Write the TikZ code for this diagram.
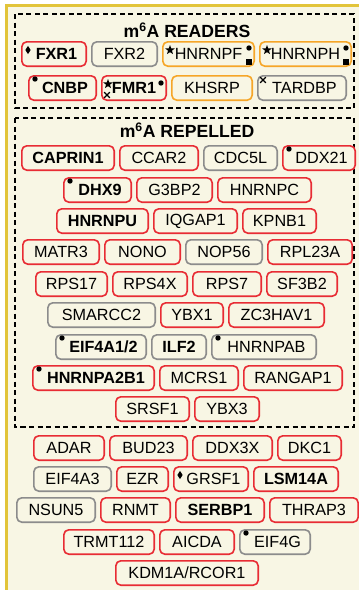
\documentclass[tikz,border=0pt]{standalone}
\usepackage{fontspec}
\setmainfont{Liberation Sans}
\usetikzlibrary{positioning, calc, shapes.geometric, shapes.misc}
\definecolor{cream}{RGB}{248,246,228}
\definecolor{gold}{RGB}{226,196,58}
\definecolor{tred}{RGB}{232,44,52}
\definecolor{tgrey}{RGB}{140,140,140}
\definecolor{torange}{RGB}{246,166,40}

\begin{document}
\begin{tikzpicture}[x=1pt, y=-1pt,
    every node/.style={font=\fontsize{16.2}{17}\selectfont},
    gene/.style={draw, rounded corners=5pt, line width=1.6pt, fill=cream, minimum height=24.4pt, inner sep=1pt},
    rbox/.style={gene, draw=tred},
    gbox/.style={gene, draw=tgrey},
    obox/.style={gene, draw=torange},
    w/.style={minimum width=#1pt-1.6pt},
    key/.style={font=\fontsize{16.2}{17}\selectfont\bfseries},
    lmark/.style={execute at begin node={\hspace*{5pt}}},
    grouptitle/.style={font=\fontsize{17.6}{18}\selectfont\bfseries},
    groupbox/.style={dash pattern=on 5pt off 3.5pt, line width=1.6pt},
    mdot/.style={circle, fill, inner sep=0pt, minimum size=5.4pt},
    msq/.style={rectangle, fill, inner sep=0pt, minimum size=5.2pt},
    mdia/.style={diamond, fill, inner sep=0pt, minimum width=5.4pt, minimum height=8.4pt},
    mstar/.style={star, star points=5, star point ratio=2.4, fill, inner sep=0pt, minimum size=10pt},
    mcross/.style={cross out, draw, line width=1.4pt, inner sep=0pt, minimum size=4.2pt},
    node distance=4pt]
  \useasboundingbox (0,0) rectangle (359,590);
  % background and frame
  \fill[cream] (5,4) rectangle (370,600);
  \draw[gold, line width=3pt] (6.5,600) |- (370,5.5);

  % m6A readers
  \draw[groupbox] (15,14) rectangle (354,108);
  \node[grouptitle] (readtitle) at (187,30) {m\textsuperscript{6}A READERS};
  \node[rbox, key, lmark, w=66, anchor=west] (fxr1) at (21,54) {FXR1};
  \node[gbox, w=67, right=of fxr1] (fxr2) {FXR2};
  \node[obox, w=93, right=of fxr2] (hnrnpf) {HNRNPF};
  \node[obox, w=93, right=of hnrnpf] (hnrnph) {HNRNPH};
  \node[rbox, key, lmark, w=69, anchor=west] (cnbp) at (28,88) {CNBP};
  \node[rbox, key, w=66, right=of cnbp] (fmr1) {FMR1};
  \node[obox, w=82, right=of fmr1] (khsrp) {KHSRP};
  \node[gbox, lmark, w=90, right=of khsrp] (tardbp) {TARDBP};

  % m6A repelled
  \draw[groupbox] (15,118) rectangle (354,427);
  \node[grouptitle] (reptitle) at (187,130) {m\textsuperscript{6}A REPELLED};
  \node[rbox, key, w=94, anchor=west] (caprin1) at (21,158) {CAPRIN1};
  \node[rbox, w=80, right=of caprin1] (ccar2) {CCAR2};
  \node[gbox, w=75, right=of ccar2] (cdc5l) {CDC5L};
  \node[rbox, lmark, w=74, right=of cdc5l] (ddx21) {DDX21};
  \node[rbox, key, lmark, w=69, anchor=west] (dhx9) at (63,190) {DHX9};
  \node[rbox, w=77, right=of dhx9] (g3bp2) {G3BP2};
  \node[rbox, w=95, right=of g3bp2] (hnrnpc) {HNRNPC};
  \node[rbox, key, w=93, anchor=west] (hnrnpu) at (56,221) {HNRNPU};
  \node[rbox, w=85, right=of hnrnpu] (iqgap1) {IQGAP1};
  \node[rbox, w=75, right=of iqgap1] (kpnb1) {KPNB1};
  \node[rbox, w=78, anchor=west] (matr3) at (22,252) {MATR3};
  \node[rbox, w=77, right=of matr3] (nono) {NONO};
  \node[gbox, w=78, right=of nono] (nop56) {NOP56};
  \node[rbox, w=86, right=of nop56] (rpl23a) {RPL23A};
  \node[rbox, w=73, anchor=west] (rps17) at (35,284) {RPS17};
  \node[rbox, w=76, right=of rps17] (rps4x) {RPS4X};
  \node[rbox, w=70, right=of rps4x] (rps7) {RPS7};
  \node[rbox, w=72, right=of rps7] (sf3b2) {SF3B2};
  \node[gbox, w=109, anchor=west] (smarcc2) at (47,315) {SMARCC2};
  \node[rbox, w=64, right=of smarcc2] (ybx1) {YBX1};
  \node[rbox, w=97, right=of ybx1] (zc3hav1) {ZC3HAV1};
  \node[gbox, key, lmark, w=92, anchor=west] (eif4a12) at (55,347) {EIF4A1/2};
  \node[gbox, key, w=56, right=of eif4a12] (ilf2) {ILF2};
  \node[gbox, lmark, w=106, right=of ilf2] (hnrnpab) {HNRNPAB};
  \node[rbox, key, lmark, w=123, anchor=west] (hnrnpa2b1) at (32,378) {HNRNPA2B1};
  \node[rbox, w=80, right=of hnrnpa2b1] (mcrs1) {MCRS1};
  \node[rbox, w=100, right=of mcrs1] (rangap1) {RANGAP1};
  \node[rbox, w=75, anchor=west] (srsf1) at (115,409) {SRSF1};
  \node[rbox, w=66, right=of srsf1] (ybx3) {YBX3};

  % others
  \node[rbox, w=72, anchor=west] (adar) at (33,448) {ADAR};
  \node[rbox, w=79, right=of adar] (bud23) {BUD23};
  \node[rbox, w=81, right=of bud23] (ddx3x) {DDX3X};
  \node[rbox, w=65, right=of ddx3x] (dkc1) {DKC1};
  \node[gbox, w=79, anchor=west] (eif4a3) at (33,479) {EIF4A3};
  \node[rbox, w=53, right=of eif4a3] (ezr) {EZR};
  \node[rbox, lmark, w=76, right=of ezr] (grsf1) {GRSF1};
  \node[rbox, key, w=86, right=of grsf1] (lsm14a) {LSM14A};
  \node[gbox, w=80, anchor=west] (nsun5) at (16,510) {NSUN5};
  \node[rbox, w=71, right=of nsun5] (rnmt) {RNMT};
  \node[rbox, key, w=90, right=of rnmt] (serbp1) {SERBP1};
  \node[rbox, w=90, right=of serbp1] (thrap3) {THRAP3};
  \node[rbox, w=92, anchor=west] (trmt112) at (63,542) {TRMT112};
  \node[rbox, w=76, right=of trmt112] (aicda) {AICDA};
  \node[gbox, lmark, w=72, right=of aicda] (eif4g) {EIF4G};
  \node[rbox, w=144, anchor=west] (kdm1a) at (115,573) {KDM1A/RCOR1};

  % marks
  \node[mdia] at ($(fxr1.west)+(7,-4)$) {};
  \node[mstar] at ($(hnrnpf.west)+(8,-4)$) {};
  \node[mdot] at ($(hnrnpf.east)+(-6,-6)$) {};
  \node[msq] at ($(hnrnpf.east)+(-6,8)$) {};
  \node[mstar] at ($(hnrnph.west)+(8,-4)$) {};
  \node[mdot] at ($(hnrnph.east)+(-6,-6)$) {};
  \node[msq] at ($(hnrnph.east)+(-6,8)$) {};
  \node[mdot] at ($(cnbp.west)+(7,-9)$) {};
  \node[mstar] at ($(fmr1.west)+(7,-4)$) {};
  \node[mcross] at ($(fmr1.west)+(6,7)$) {};
  \node[mdot] at ($(fmr1.east)+(-6,-5)$) {};
  \node[mcross] at ($(tardbp.west)+(6,-8)$) {};
  \node[mdot] at ($(ddx21.west)+(7,-9)$) {};
  \node[mdot] at ($(dhx9.west)+(7,-9)$) {};
  \node[mdot] at ($(eif4a12.west)+(7,-9)$) {};
  \node[mdot] at ($(hnrnpab.west)+(7,-9)$) {};
  \node[mdot] at ($(hnrnpa2b1.west)+(7,-9)$) {};
  \node[mdia] at ($(grsf1.west)+(7,-4)$) {};
  \node[mdot] at ($(eif4g.west)+(7,-9)$) {};
\end{tikzpicture}
\end{document}
